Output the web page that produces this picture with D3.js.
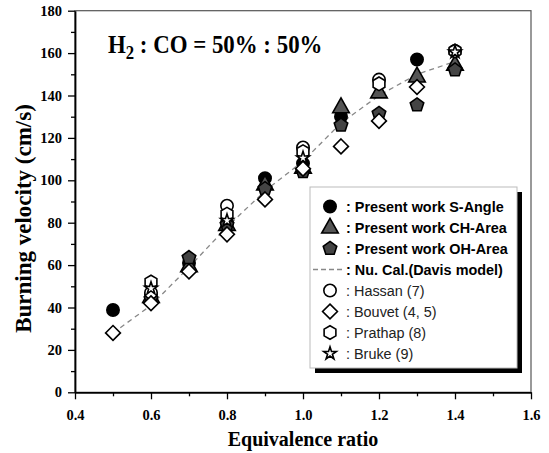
<!DOCTYPE html>
<html><head><meta charset="utf-8">
<script src="https://cdn.jsdelivr.net/npm/d3@7"></script>
<style>body{margin:0;background:#fff}svg{display:block}</style>
</head><body>
<svg id="c" width="549" height="453"></svg>
<script>
const xTicks = [0.4,0.6,0.8,1.0,1.2,1.4,1.6];
const yTicks = [0,20,40,60,80,100,120,140,160,180];
const sAngle = [[0.5,38.8],[0.6,46],[0.7,61],[0.8,80],[0.9,101],[1.0,108],[1.1,130],[1.3,157],[1.4,161]];
const chArea = [[0.6,45],[0.7,59.5],[0.8,79],[0.9,98],[1.0,106],[1.1,134.5],[1.2,141.5],[1.3,149],[1.4,154.5]];
const ohArea = [[0.6,44],[0.7,63.5],[0.8,79],[0.9,96],[1.0,104],[1.1,126],[1.2,131.5],[1.3,135.5],[1.4,152]];
const davis = [[0.5,28],[0.6,41],[0.7,59],[0.8,78],[0.9,95],[1.0,109],[1.1,127],[1.2,140],[1.3,150],[1.4,156]];
const hassan = [[0.6,47],[0.8,88],[1.0,115.5],[1.2,147.5]];
const bouvet = [[0.5,28],[0.6,42],[0.7,57],[0.8,74.5],[0.9,91],[1.0,105.5],[1.1,116],[1.2,128],[1.3,144]];
const prathap = [[0.6,52],[0.8,84],[1.0,113.5],[1.2,145.5],[1.4,161]];
const bruke = [[0.6,49],[0.8,81],[1.0,110.5],[1.4,160.5]];
const legendLabels = [": Present work S-Angle",": Present work CH-Area",": Present work OH-Area",": Nu. Cal.(Davis model)",": Hassan (7)",": Bouvet (4, 5)",": Prathap (8)",": Bruke (9)"];

const svg = d3.select("#c");
const L=75,R=531,T=10.7,B=392.3;
const x = d3.scaleLinear().domain([0.4,1.6]).range([L,R]);
const y = d3.scaleLinear().domain([0,180]).range([B,T]);
const serif = "'Liberation Serif','Times New Roman',serif";
const sans = "'Liberation Sans',Arial,sans-serif";

svg.append("rect").attr("x",L).attr("y",T).attr("width",R-L).attr("height",B-T)
  .attr("fill","none").attr("stroke","#555").attr("stroke-width",1.2);

const xAxisMinor = d3.axisBottom(x).tickValues(d3.range(0.5,1.6,0.2)).tickSize(4).tickFormat("");
const xAxis = d3.axisBottom(x).tickValues(xTicks).tickSize(7).tickSizeOuter(0).tickFormat(d3.format(".1f"));
const yAxisMinor = d3.axisLeft(y).tickValues(d3.range(10,180,20)).tickSize(4).tickFormat("");
const yAxis = d3.axisLeft(y).tickValues(yTicks).tickSize(7).tickSizeOuter(0).tickFormat(d3.format("d"));

function styleAxis(g){
  g.select(".domain").attr("stroke","#000").attr("stroke-width",1.8);
  g.selectAll(".tick line").attr("stroke","#000").attr("stroke-width",1.3);
  g.selectAll("text").attr("font-family",serif).attr("font-weight","bold").attr("font-size",14.5).attr("fill","#000");
}
svg.append("g").attr("transform",`translate(0,${B})`).call(xAxisMinor).call(styleAxis).select(".domain").remove();
svg.append("g").attr("transform",`translate(${L},0)`).call(yAxisMinor).call(styleAxis).select(".domain").remove();
const gx = svg.append("g").attr("transform",`translate(0,${B})`).call(xAxis).call(styleAxis);
gx.selectAll("text").attr("dy","1.2em");
const gy = svg.append("g").attr("transform",`translate(${L},0)`).call(yAxis).call(styleAxis);
gy.selectAll("text").attr("dx","-0.2em");

svg.append("text").attr("x",(L+R)/2).attr("y",446).attr("text-anchor","middle")
  .attr("font-family",serif).attr("font-weight","bold").attr("font-size",20).text("Equivalence ratio");
svg.append("text").attr("transform",`translate(31,${(T+B)/2+17}) rotate(-90)`).attr("text-anchor","middle")
  .attr("font-family",serif).attr("font-weight","bold").attr("font-size",23).text("Burning velocity (cm/s)");

const tt = svg.append("text").attr("transform","translate(108,53) scale(0.88,1)").attr("font-family",serif).attr("font-weight","bold").attr("font-size",26);
tt.append("tspan").text("H");
tt.append("tspan").attr("font-size",19).attr("dy",6).text("2");
tt.append("tspan").attr("dy",-6).text(" : CO = 50% : 50%");

const line = d3.line().x(d=>x(d[0])).y(d=>y(d[1]));
svg.append("path").datum(davis).attr("d",line).attr("fill","none").attr("stroke","#888").attr("stroke-width",1.3).attr("stroke-dasharray","5,4");

const pentagon = {draw(ctx,size){const r=Math.sqrt(size/2.3776);for(let i=0;i<5;i++){const a=-Math.PI/2+i*2*Math.PI/5;const px=r*Math.cos(a),py=r*Math.sin(a);i?ctx.lineTo(px,py):ctx.moveTo(px,py);}ctx.closePath();}};
const hexagon = {draw(ctx,size){const r=Math.sqrt(size/2.598);for(let i=0;i<6;i++){const a=-Math.PI/2+i*Math.PI/3;const px=r*Math.cos(a),py=r*Math.sin(a);i?ctx.lineTo(px,py):ctx.moveTo(px,py);}ctx.closePath();}};
const diamondSq = {draw(ctx,size){const r=Math.sqrt(size/2);ctx.moveTo(0,-r);ctx.lineTo(r,0);ctx.lineTo(0,r);ctx.lineTo(-r,0);ctx.closePath();}};
const triUp = {draw(ctx,size){const r=Math.sqrt(size/1.3);ctx.moveTo(0,-r);ctx.lineTo(r*0.9,r*0.6);ctx.lineTo(-r*0.9,r*0.6);ctx.closePath();}};

const series = [
  {data:sAngle, type:d3.symbolCircle, size:120, fill:"#000"},
  {data:chArea, type:triUp, size:110, fill:"#555"},
  {data:ohArea, type:pentagon, size:120, fill:"#444"},
  {data:hassan, type:d3.symbolCircle, size:120, fill:"#fff"},
  {data:bouvet, type:diamondSq, size:110, fill:"#fff"},
  {data:prathap, type:hexagon, size:120, fill:"#fff"},
  {data:bruke, type:d3.symbolStar, size:50, fill:"#fff"}
];
series.forEach(s=>{
  svg.append("g").selectAll("path").data(s.data).join("path")
    .attr("transform",d=>`translate(${x(d[0])},${y(d[1])})`)
    .attr("d",d3.symbol().type(s.type).size(s.size))
    .attr("fill",s.fill).attr("stroke","#000").attr("stroke-width",1.6);
});

const lg = svg.append("g");
lg.append("rect").attr("x",315).attr("y",192).attr("width",207).attr("height",181).attr("fill","#000");
lg.append("rect").attr("x",310).attr("y",187).attr("width",207).attr("height",181).attr("fill","#fff").attr("stroke","#bbb").attr("stroke-width",1);
const rowY = i=>206.5+i*21;
const legSym = [series[0],series[1],series[2],null,series[3],series[4],series[5],series[6]];
legendLabels.forEach((lab,i)=>{
  const s = legSym[i];
  if(s){
    lg.append("path").attr("transform",`translate(330,${rowY(i)})`)
      .attr("d",d3.symbol().type(s.type).size(s.size))
      .attr("fill",s.fill).attr("stroke","#000").attr("stroke-width",1.6);
  } else {
    lg.append("line").attr("x1",313).attr("x2",345).attr("y1",rowY(i)).attr("y2",rowY(i))
      .attr("stroke","#888").attr("stroke-width",1.3).attr("stroke-dasharray","5,3");
  }
  lg.append("text").attr("transform",`translate(346,${rowY(i)+5.5}) scale(0.93,1)`).attr("font-family",sans)
    .attr("font-weight",i<4?"bold":"normal").attr("font-size",15.5).attr("fill",i<4?"#000":"#222").text(lab);
});
</script>
</body></html>
